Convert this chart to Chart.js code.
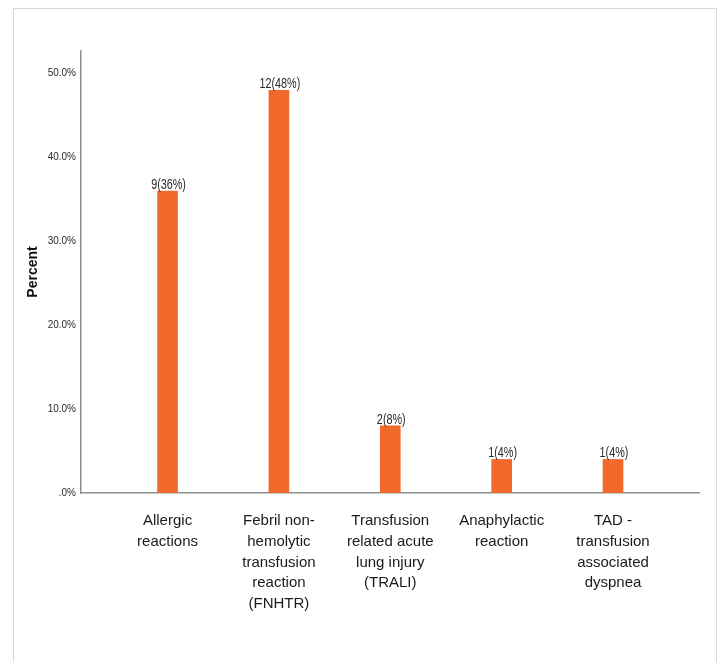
<!DOCTYPE html>
<html>
<head>
<meta charset="utf-8">
<script src="https://cdn.jsdelivr.net/npm/chart.js@4/dist/chart.umd.min.js"></script>
<style>
  html, body { margin: 0; padding: 0; background: #fff; }
  #wrap { position: relative; width: 718px; height: 662px; }
  #frame { position: absolute; left: 13px; top: 8px; width: 704px; height: 670px;
           border: 1px solid #d9d9d9; border-bottom: none; box-sizing: border-box; }
  canvas { position: absolute; left: 0; top: 0; }
</style>
</head>
<body>
<div id="wrap">
  <div id="frame"></div>
  <canvas id="c" width="718" height="662"></canvas>
</div>
<script>
// Transfusion reaction types (multi-line category labels)
const categories = [
  ['Allergic', 'reactions'],
  ['Febril non-', 'hemolytic', 'transfusion', 'reaction', '(FNHTR)'],
  ['Transfusion', 'related acute', 'lung injury', '(TRALI)'],
  ['Anaphylactic', 'reaction'],
  ['TAD -', 'transfusion', 'associated', 'dyspnea']
];
// Number of cases per reaction type
const counts = [9, 12, 2, 1, 1];
// Percent of all reactions
const percents = [36, 48, 8, 4, 4];
// Y-axis tick values (percent)
const yTicks = [0, 10, 20, 30, 40, 50];

Chart.defaults.font.family = "'Liberation Sans', Arial, sans-serif";

// Writes "n(p%)" above every bar in a narrowed face
const valueLabels = {
  id: 'valueLabels',
  afterDatasetsDraw(chart) {
    const ctx = chart.ctx;
    const meta = chart.getDatasetMeta(0);
    meta.data.forEach((bar, i) => {
      ctx.save();
      ctx.font = "15px 'Liberation Sans', Arial, sans-serif";
      ctx.fillStyle = '#2a2a2a';
      ctx.textAlign = 'center';
      ctx.textBaseline = 'alphabetic';
      ctx.translate(bar.x + 1, bar.y - 2);
      ctx.scale(0.72, 1);
      ctx.fillText(counts[i] + '(' + percents[i] + '%)', 0, 0);
      ctx.restore();
    });
  }
};

new Chart(document.getElementById('c'), {
  type: 'bar',
  data: {
    datasets: [{
      data: percents.map((v, i) => ({ x: i, y: v })),
      backgroundColor: '#F26A2B',
      borderWidth: 0,
      barThickness: 20
    }]
  },
  options: {
    responsive: false,
    animation: false,
    layout: { padding: { left: 20, right: 19, top: 51, bottom: 10 } },
    plugins: { legend: { display: false }, tooltip: { enabled: false } },
    scales: {
      x: {
        type: 'linear',
        offset: false,
        min: -0.777,
        max: 4.772,
        grid: { display: false, drawTicks: false },
        border: { display: true, color: '#8f8f8f', width: 1.5 },
        afterBuildTicks: s => { s.ticks = categories.map((_, i) => ({ value: i })); },
        afterFit: s => { s.height = 159; },
        ticks: {
          autoSkip: false,
          maxRotation: 0,
          minRotation: 0,
          padding: 18,
          color: '#1a1a1a',
          font: { size: 15, lineHeight: 1.37 },
          callback: v => categories[v]
        }
      },
      y: {
        min: 0,
        max: 52.7,
        grid: { display: false, drawTicks: false },
        border: { display: true, color: '#8f8f8f', width: 1.5 },
        afterBuildTicks: s => { s.ticks = yTicks.map(v => ({ value: v })); },
        afterFit: s => { s.width = 61; },
        ticks: {
          padding: 5,
          color: '#2a2a2a',
          font: { size: 10 },
          callback: v => (v === 0 ? '.0' : v.toFixed(1)) + '%'
        },
        title: {
          display: true,
          text: 'Percent',
          color: '#111',
          font: { family: "'Liberation Sans', Arial, sans-serif", size: 14, weight: 'bold' },
          padding: { top: 5, bottom: 0 }
        }
      }
    }
  },
  plugins: [valueLabels]
});
</script>
</body>
</html>
